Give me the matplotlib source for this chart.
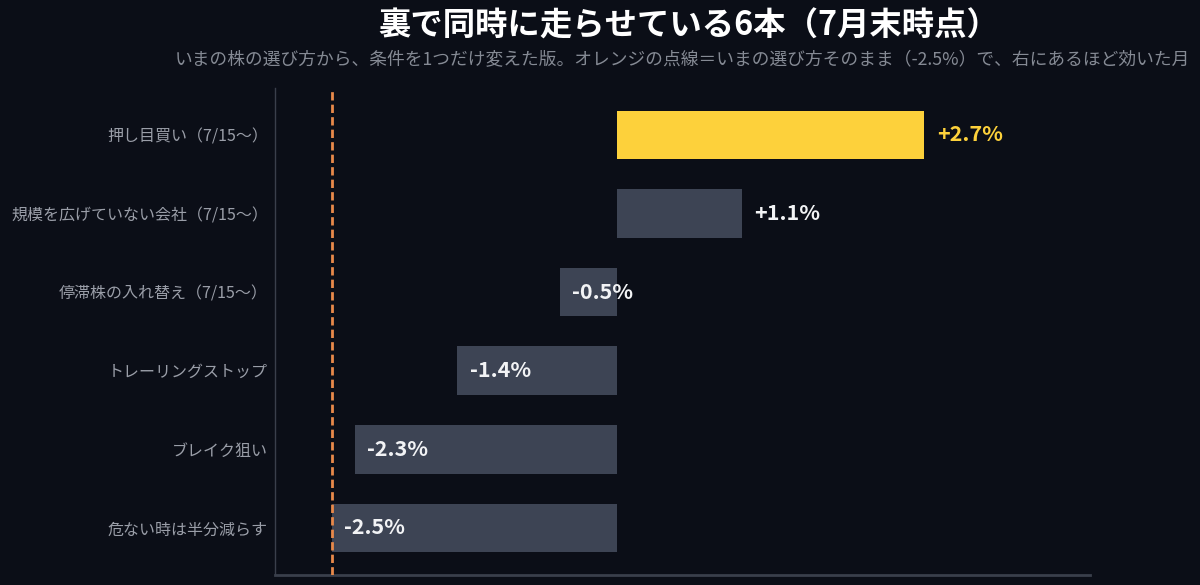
import matplotlib
matplotlib.use("Agg")
import matplotlib.pyplot as plt

plt.rcParams['font.family'] = ['Noto Sans CJK JP', 'DejaVu Sans']

categories = ["押し目買い（7/15〜）", "規模を広げていない会社（7/15〜）", "停滞株の入れ替え（7/15〜）",
              "トレーリングストップ", "ブレイク狙い", "危ない時は半分減らす"]
values = [2.7, 1.1, -0.5, -1.4, -2.3, -2.5]
value_labels = ["+2.7%", "+1.1%", "-0.5%", "-1.4%", "-2.3%", "-2.5%"]
baseline = -2.5
highlight_index = 0

title = "裏で同時に走らせている6本（7月末時点）"
subtitle = "いまの株の選び方から、条件を1つだけ変えた版。オレンジの点線＝いまの選び方そのまま（-2.5%）で、右にあるほど効いた月"

BG = "#0b0e17"
GRAY_BAR = "#3d4454"
YELLOW = "#fdd13b"
ORANGE = "#e8894a"
TICK_COL = "#9a9ea8"
SUB_COL = "#858a94"
SPINE_COL = "#3a3f4b"

fig = plt.figure(figsize=(12, 5.85), dpi=100, facecolor=BG)
ax = fig.add_axes([0.229, 0.017, 0.679, 0.833], facecolor=BG)

ypos = list(range(len(categories)))
colors = [YELLOW if i == highlight_index else GRAY_BAR for i in ypos]
ax.barh(ypos, values, height=0.62, color=colors, zorder=2)

ax.axvline(baseline, color=ORANGE, lw=2.0, dashes=(3, 1.5), zorder=3)

ax.set_xlim(-3.0, 4.15)
ax.set_ylim(5.6, -0.6)
ax.set_yticks(ypos)
ax.set_yticklabels(categories, color=TICK_COL, fontsize=11.5)
ax.tick_params(axis='y', length=0, pad=5)
ax.set_xticks([])

for s in ['top', 'right']:
    ax.spines[s].set_visible(False)
ax.spines['left'].set_color(SPINE_COL)
ax.spines['left'].set_linewidth(1.0)
ax.spines['bottom'].set_color(SPINE_COL)
ax.spines['bottom'].set_linewidth(2.0)

off = 0.11
for i, (v, lab) in enumerate(zip(values, value_labels)):
    x = v + off
    col = YELLOW if i == highlight_index else "#f2f3f5"
    ax.text(x, i, lab, ha='left', va='center', fontsize=15.5, fontweight='semibold',
            color=col, zorder=4)

fig.text(0.574, 0.955, title, ha='center', va='center', fontsize=23.3,
         fontweight='bold', color="#ffffff")
fig.text(0.569, 0.898, subtitle, ha='center', va='center', fontsize=12.75,
         color=SUB_COL)

fig.savefig("out.png", dpi=100, facecolor=BG)
